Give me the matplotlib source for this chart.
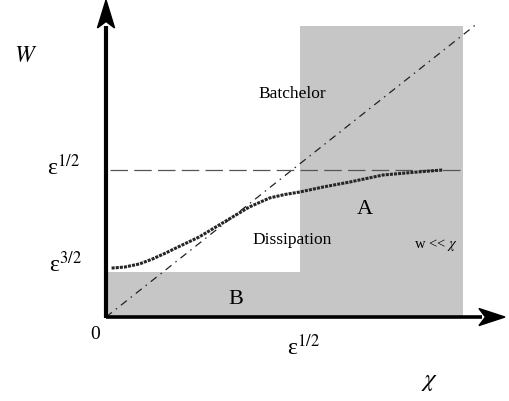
import numpy as np
import matplotlib.pyplot as plt
from matplotlib.patches import Rectangle, Polygon

plt.rcParams['font.family'] = ['Liberation Serif', 'DejaVu Serif']
plt.rcParams['mathtext.fontset'] = 'stix'

# crossover curve w(chi) (units: eps^1/2 = 1)
chi_curve = [0.03, 0.10, 0.18, 0.25, 0.32, 0.41, 0.50, 0.59, 0.68, 0.77, 0.88,
             0.96, 1.04, 1.17, 1.31, 1.49, 1.67, 1.81]
w_curve = [0.333, 0.340, 0.361, 0.395, 0.435, 0.490, 0.544, 0.612, 0.680, 0.748, 0.810,
           0.833, 0.850, 0.885, 0.918, 0.966, 0.986, 1.000]

# shaded regions (chi0, chi1, w0, w1)
region_A = (1.043, 1.919, 0.0, 1.98)
region_B = (0.0, 1.043, 0.0, 0.306)

# w = chi line and the w = eps^1/2 level
diag_chi = [0.0, 2.0]
level_w = 1.0
level_chi = [0.02, 1.914]

x_top = 2.145   # tip of chi arrow
y_top = 2.156   # tip of W arrow

fig = plt.figure(figsize=(5.1, 4.01), dpi=100)
ax = fig.add_axes([0, 0, 1, 1])
ax.set_xlim(-0.570, 2.172)
ax.set_ylim(-0.571, 2.156)
ax.axis('off')

shade = '#c6c6c6'
for c0, c1, w0, w1 in (region_A, region_B):
    ax.add_patch(Rectangle((c0, w0), c1 - c0, w1 - w0, facecolor=shade,
                           edgecolor='none', zorder=0))

# w = chi (dash-dot)
ax.plot(diag_chi, diag_chi, color='#222222', lw=0.9,
        linestyle=(0, (6, 4, 1.2, 4)), zorder=2)
# eps^1/2 level (dashed)
ax.plot(level_chi, [level_w, level_w], color='#555555', lw=0.9,
        linestyle=(0, (14, 5)), zorder=2)
# crossover curve
ax.plot(chi_curve, w_curve, color='#262626', lw=2.2,
        linestyle=(0, (1.0, 0.35)), zorder=3)

# axes with arrow heads
ax.plot([0, 0], [-0.005, 1.98], color='black', lw=3, solid_capstyle='butt', zorder=4)
ax.plot([0, 2.02], [0, 0], color='black', lw=2.6, solid_capstyle='butt', zorder=4)
hw_x = 0.046
ax.add_patch(Polygon([(0, y_top), (hw_x, 1.966), (0, 2.01), (-hw_x, 1.966)],
                     closed=True, color='black', zorder=5))
hw_y = 0.058
ax.add_patch(Polygon([(x_top, 0), (2.005, hw_y), (2.04, 0), (2.005, -hw_y)],
                     closed=True, color='black', zorder=5))

# labels
ax.text(-0.430, 1.769, r'$W$', fontsize=17, ha='center', va='center')
ax.text(-0.226, 1.02, r'ε$^{1/2}$', fontsize=17, ha='center', va='center')
ax.text(-0.220, 0.36, r'ε$^{3/2}$', fontsize=17, ha='center', va='center')
ax.text(-0.059, -0.122, '0', fontsize=14, ha='center', va='center')
ax.text(1.06, -0.205, r'ε$^{1/2}$', fontsize=17, ha='center', va='center')
ax.text(1.737, -0.442, r'$\chi$', fontsize=18, ha='center', va='center')

ax.text(1.0, 1.517, 'Batchelor', fontsize=12.5, ha='center', va='center')
ax.text(1.0, 0.524, 'Dissipation', fontsize=12.5, ha='center', va='center')
ax.text(1.392, 0.728, 'A', fontsize=16, ha='center', va='center')
ax.text(0.699, 0.116, 'B', fontsize=16, ha='center', va='center')
ax.text(1.774, 0.490, r'w << $\chi$', fontsize=10.5, ha='center', va='center')

fig.savefig('out.png', dpi=100)
